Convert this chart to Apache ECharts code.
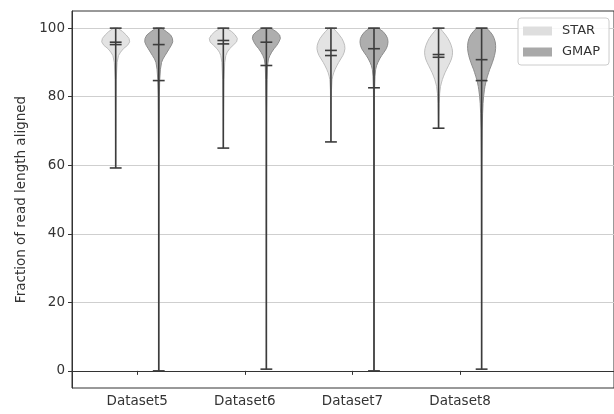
<!DOCTYPE html>
<html>
<head>
<meta charset="utf-8">
<script src="https://cdn.jsdelivr.net/npm/echarts@6/dist/echarts.min.js"></script>
<style>
  html, body { margin: 0; padding: 0; background: #fff; }
  #chart { width: 614px; height: 414px; }
</style>
</head>
<body>
<div id="chart"></div>
<script>
const categories = ['Dataset5', 'Dataset6', 'Dataset7', 'Dataset8'];
const tickPositions = [1, 2, 3, 4];
const yTicks = [0, 20, 40, 60, 80, 100];

const starMax = [100, 100, 100, 100];
const starMin = [59.2, 65, 66.8, 70.8];
const starMedian = [95.9, 96.4, 93.5, 92.3];
const starMean = [95.2, 95.4, 92.0, 91.5];

const gmapMax = [100, 100, 100, 100];
const gmapMin = [0, 0.5, 0, 0.5];
const gmapMedian = [95.2, 95.9, 94.0, 90.8];
const gmapMean = [84.7, 89.1, 82.6, 84.7];

// violin outlines: [value, relative half width]
const starShape5 = [[100, 0.15], [99, 0.5], [98, 0.75], [97, 0.95], [96, 1.0], [95, 0.85], [94, 0.55], [93, 0.35], [92, 0.2], [90, 0.1], [85, 0.04], [75, 0.02], [59.2, 0.01]];
const starShape6 = [[100, 0.2], [99, 0.6], [98, 0.85], [97, 1.0], [96, 0.95], [95, 0.7], [94, 0.45], [93, 0.28], [92, 0.18], [90, 0.1], [85, 0.05], [75, 0.02], [65, 0.01]];
const starShape7 = [[100, 0.15], [99, 0.4], [98, 0.6], [97, 0.78], [96, 0.9], [95, 0.98], [94, 1.0], [93, 0.95], [92, 0.85], [91, 0.7], [90, 0.55], [89, 0.42], [88, 0.3], [87, 0.2], [86, 0.13], [85, 0.08], [82, 0.04], [75, 0.02], [66.8, 0.01]];
const starShape8 = [[100, 0.1], [99, 0.3], [98, 0.5], [97, 0.67], [96, 0.8], [95, 0.9], [94, 0.97], [93, 1.0], [92, 0.98], [91, 0.92], [90, 0.82], [89, 0.7], [88, 0.58], [87, 0.46], [86, 0.36], [85, 0.27], [84, 0.2], [83, 0.14], [81, 0.08], [78, 0.04], [70.8, 0.01]];

const gmapShape5 = [[100, 0.2], [99, 0.55], [98, 0.85], [97, 0.98], [96, 1.0], [95, 0.9], [94, 0.75], [93, 0.6], [92, 0.45], [91, 0.3], [90, 0.2], [88, 0.12], [85, 0.07], [80, 0.04], [60, 0.015], [0, 0.005]];
const gmapShape6 = [[100, 0.3], [99, 0.7], [98, 0.95], [97, 1.0], [96, 0.9], [95, 0.75], [94, 0.55], [93, 0.38], [92, 0.25], [91, 0.15], [89, 0.08], [85, 0.05], [75, 0.02], [0.5, 0.005]];
const gmapShape7 = [[100, 0.3], [99, 0.65], [98, 0.85], [97, 0.97], [96, 1.0], [95, 0.97], [94, 0.88], [93, 0.72], [92, 0.55], [91, 0.4], [90, 0.28], [89, 0.18], [88, 0.12], [86, 0.07], [82, 0.04], [70, 0.02], [0, 0.005]];
const gmapShape8 = [[100, 0.35], [99, 0.6], [98, 0.78], [97, 0.9], [96, 0.97], [95, 1.0], [94, 1.0], [93, 0.97], [92, 0.92], [91, 0.85], [90, 0.77], [89, 0.68], [88, 0.58], [87, 0.5], [86, 0.42], [85, 0.35], [84, 0.29], [83, 0.24], [82, 0.2], [80, 0.14], [78, 0.1], [75, 0.07], [70, 0.04], [60, 0.02], [30, 0.01], [0.5, 0.005]];

const starShapes = [starShape5, starShape6, starShape7, starShape8];
const gmapShapes = [gmapShape5, gmapShape6, gmapShape7, gmapShape8];

const halfWidth = 0.13;
const capHalf = 0.055;
const lineColor = '#3c3c3c';
const font = 'DejaVu Sans';

const makeViolinSeries = (name, offset, shapes, maxs, mins, medians, means, fill, edge) => ({
  name,
  type: 'custom',
  itemStyle: { color: fill },
  data: tickPositions.map((p, i) => [p + offset, maxs[i], mins[i], medians[i], means[i]]),
  renderItem(params, api) {
    const x = api.value(0);
    const shape = shapes[params.dataIndex];
    const right = shape.map(([v, w]) => api.coord([x + w * halfWidth, v]));
    const left = shape.slice().reverse().map(([v, w]) => api.coord([x - w * halfWidth, v]));
    const seg = (x1, x2, v1, v2) => {
      const a = api.coord([x1, v1]);
      const b = api.coord([x2, v2]);
      return {
        type: 'line',
        shape: { x1: a[0], y1: a[1], x2: b[0], y2: b[1] },
        style: { stroke: lineColor, lineWidth: 1.6 }
      };
    };
    const cap = v => seg(x - capHalf, x + capHalf, v, v);
    return {
      type: 'group',
      children: [
        {
          type: 'polygon',
          shape: { points: right.concat(left) },
          style: { fill, stroke: edge, lineWidth: 1 }
        },
        seg(x, x, api.value(2), api.value(1)),
        cap(api.value(1)),
        cap(api.value(2)),
        cap(api.value(3)),
        cap(api.value(4))
      ]
    };
  }
});

const chart = echarts.init(document.getElementById('chart'));

chart.setOption({
  animation: false,
  grid: {
    left: 72,
    right: -4,
    top: 11,
    bottom: 26,
    show: true,
    borderColor: '#333',
    borderWidth: 1
  },
  legend: {
    orient: 'vertical',
    left: 518,
    top: 18,
    padding: [6, 9, 6, 5],
    itemWidth: 29,
    itemHeight: 9,
    itemGap: 7,
    icon: 'rect',
    borderColor: '#cccccc',
    borderWidth: 1,
    borderRadius: 3,
    backgroundColor: 'rgba(255,255,255,0.85)',
    textStyle: { fontFamily: font, fontSize: 13, color: '#333', lineHeight: 14, padding: [0, 0, 0, 5] },
    data: [
      { name: 'STAR', itemStyle: { color: '#dedede', borderColor: '#d0d0d0' } },
      { name: 'GMAP', itemStyle: { color: '#a9a9a9', borderColor: '#999' } }
    ]
  },
  xAxis: {
    type: 'value',
    min: 0.394,
    max: 5.43,
    axisLine: { show: true, lineStyle: { color: '#333' } },
    axisTick: { show: true, customValues: tickPositions, length: 4, lineStyle: { color: '#333' } },
    axisLabel: {
      customValues: tickPositions,
      formatter: v => categories[Math.round(v) - 1] || '',
      fontFamily: font,
      fontSize: 13.5,
      color: '#333',
      margin: 6
    },
    splitLine: { show: false }
  },
  yAxis: {
    type: 'value',
    min: -5,
    max: 105,
    name: 'Fraction of read length aligned',
    nameLocation: 'middle',
    nameGap: 41,
    nameTextStyle: { fontFamily: font, fontSize: 13.5, color: '#333' },
    axisLine: { show: true, lineStyle: { color: '#333' } },
    axisTick: { show: true, customValues: yTicks, length: 4, lineStyle: { color: '#333' } },
    axisLabel: {
      customValues: yTicks,
      fontFamily: font,
      fontSize: 13.5,
      color: '#333',
      margin: 7
    },
    splitLine: { show: true, lineStyle: { color: '#cfcfcf', width: 1 } }
  },
  series: [
    makeViolinSeries('STAR', -0.2, starShapes, starMax, starMin, starMedian, starMean, 'rgba(222,222,222,0.85)', '#bdbdbd'),
    makeViolinSeries('GMAP', 0.2, gmapShapes, gmapMax, gmapMin, gmapMedian, gmapMean, 'rgba(160,160,160,0.85)', '#8c8c8c')
  ]
});
</script>
</body>
</html>
